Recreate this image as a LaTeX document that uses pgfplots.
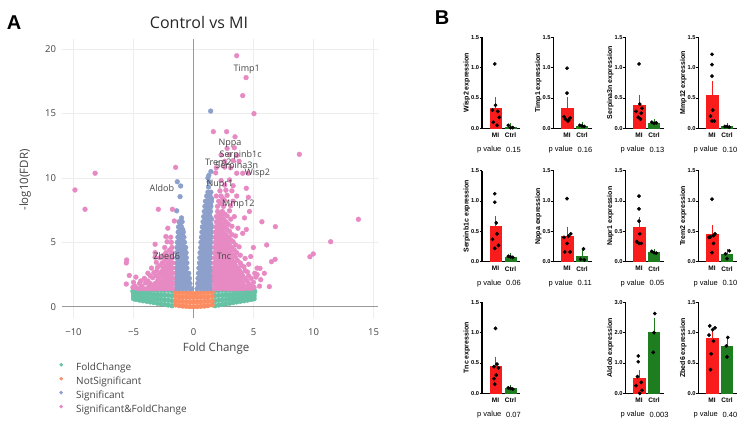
\documentclass[border=0pt]{standalone}
\usepackage{pgfplots}
\pgfplotsset{compat=1.18}
\usepackage{fontspec}
\setmainfont{Open Sans}
\newfontfamily\arial{Liberation Sans}
\definecolor{cgreen}{HTML}{66C2A5}
\definecolor{corange}{HTML}{FC8D62}
\definecolor{cblue}{HTML}{8DA0CB}
\definecolor{cpink}{HTML}{E78AC3}
\definecolor{txt}{HTML}{444444}
\definecolor{barred}{HTML}{F81C1C}
\definecolor{bargreen}{HTML}{1E7D1E}
\pgfplotsset{
  bplot/.style={
    anchor=south west, scale only axis, width=38pt, height=91pt,
    xmin=-0.9, xmax=1.633, ymin=0, ymax=1.5, clip=false,
    axis x line*=bottom, axis y line*=left,
    axis line style={line width=1.1pt, -},
    /pgf/number format/assume math mode=true,
    ytick={0,0.5,1,1.5},
    yticklabel style={font=\arial\bfseries\fontsize{5.7}{6}\selectfont, inner sep=0.6pt, /pgf/number format/.cd, fixed, fixed zerofill, precision=1},
    xtick={0,1}, xticklabels={MI,Ctrl},
    xticklabel style={font=\arial\bfseries\fontsize{6.5}{7}\selectfont, yshift=1pt},
    tick align=outside, major tick length=2.2pt,
    ytick style={line width=0.9pt, black}, xtick style={draw=none},
    every axis y label/.style={at={(axis description cs:-0.40,0.5)}, rotate=90, anchor=center, font=\arial\bfseries\fontsize{7}{8}\selectfont},
  },
  mibar/.style={ybar, bar width=11.5pt, bar shift=0pt, fill=barred, draw=barred, error bars/.cd, y dir=plus, y explicit, error bar style={barred, line width=0.8pt}, error mark options={barred, mark size=3pt, line width=0.8pt}},
  ctbar/.style={ybar, bar width=11pt, bar shift=0pt, fill=bargreen, draw=bargreen, error bars/.cd, y dir=plus, y explicit, error bar style={bargreen, line width=0.8pt}, error mark options={bargreen, mark size=3pt, line width=0.8pt}},
  dots/.style={only marks, mark=*, mark size=1.7pt, black},
}
\newcommand{\pv}[3]{\node[anchor=west, font=\arial\fontsize{7.5}{8}\selectfont, inner sep=0pt] at (#1pt-5pt,#2pt) {p value};
\node[anchor=west, font=\arial\fontsize{7.5}{8}\selectfont, inner sep=0pt] at (#1pt+24pt,#2pt) {#3};}
\begin{document}
\begin{tikzpicture}
\useasboundingbox (0pt,0pt) rectangle (751pt,427pt);
\node[font=\arial\bfseries\fontsize{20}{22}\selectfont, inner sep=0pt] at (14pt,404pt) {A};
\node[font=\arial\bfseries\fontsize{20}{22}\selectfont, inner sep=0pt] at (442pt,409pt) {B};
\begin{axis}[
  at={(61.5pt,108.7pt)}, anchor=south west, scale only axis,
  width=316.8pt, height=279.3pt,
  xmin=-11, xmax=15.4, ymin=-0.9, ymax=20.8,
  axis x line*=bottom, axis y line*=left, axis line style={draw=none},
  major tick length=0pt,
  xtick={-10,-5,0,5,10,15}, xticklabels={−10,−5,0,5,10,15},
  ytick={0,5,10,15,20},
  /pgf/number format/assume math mode=true,
  ticklabel style={font=\fontsize{9.5}{11}\selectfont, text=txt},
  xticklabel style={yshift=-7pt},
  yticklabel style={xshift=-2pt},
  grid=major, grid style={color=black!7, line width=0.6pt},
  title={Control vs MI},
  title style={at={(axis description cs:0.434,1.037)}, anchor=center, font=\fontsize{16}{18}\selectfont, text=black!85},
  xlabel={Fold Change}, ylabel={-log10(FDR)},
  every axis x label/.style={at={(axis description cs:0.488,-0.107)}, anchor=center, font=\fontsize{11.5}{13}\selectfont, text=txt},
  every axis y label/.style={at={(axis description cs:-0.115,0.495)}, rotate=90, anchor=center, font=\fontsize{11.5}{13}\selectfont, text=txt},
  legend style={at={(axis description cs:-0.011,-0.159)}, anchor=north west, draw=none, fill=none, font=\fontsize{10}{12}\selectfont, text=txt, legend cell align=left, row sep=4.8pt, column sep=3pt, inner sep=0pt, nodes={inner sep=0pt}},
  legend image code/.code={\path[draw=none, fill=none] (-3pt,-2pt) rectangle (12pt,2pt); \draw[#1, mark size=1.6pt] plot coordinates {(0pt,2.7pt)};},
  after end axis/.code={
    \begin{scope}[every node/.style={font=\fontsize{9}{10}\selectfont, text=txt, inner sep=0pt}]
    \node at (axis cs:4.43,18.47) {Timp1};
    \node at (axis cs:3.04,12.7) {Nppa};
    \node at (axis cs:3.93,11.79) {Serpinb1c};
    \node at (axis cs:2.07,11.19) {Trem2};
    \node at (axis cs:3.6,10.88) {Serpina3n};
    \node at (axis cs:5.32,10.37) {Wisp2};
    \node at (axis cs:-2.63,9.2) {Aldob};
    \node at (axis cs:2.2,9.5) {Nupr1};
    \node at (axis cs:3.74,7.96) {Mmp12};
    \node at (axis cs:-2.23,3.94) {Zbed6};
    \node at (axis cs:2.54,3.94) {Tnc};
    \end{scope}
  },
]
\addplot[forget plot, color=black!40, line width=1.3pt] coordinates {(0,-0.9) (0,20.8)};
\addplot[forget plot, color=black!40, line width=1.3pt] coordinates {(-11,0) (15.4,0)};
% FoldChange
\addplot[only marks, mark=*, mark size=2.4pt, color=cgreen] coordinates {
(-1.8,0.08)(-1.8,0.47)(-1.8,0.86)(-1.8,1.25)
(-2.1,0.13)(-2.1,0.5)(-2.1,0.88)(-2.1,1.28)
(-2.4,0.18)(-2.4,0.54)(-2.4,0.89)(-2.4,1.25)
(-2.7,0.22)(-2.7,0.56)(-2.7,0.91)(-2.7,1.27)
(-3.0,0.27)(-3.0,0.6)(-3.0,0.92)(-3.0,1.25)
(-3.3,0.32)(-3.3,0.63)(-3.3,0.94)(-3.3,1.28)
(-3.6,0.37)(-3.6,0.66)(-3.6,0.96)(-3.6,1.25)
(-3.9,0.42)(-3.9,0.7)(-3.9,0.97)(-3.9,1.26)
(-4.2,0.46)(-4.2,0.72)(-4.2,0.99)(-4.2,1.25)
(-4.5,0.51)(-4.5,0.76)(-4.5,1.0)(-4.5,1.25)
(-4.8,0.56)(-4.8,0.79)(-4.8,1.02)(-4.8,1.22)
(-5.0,0.62)(-5.0,0.84)(-5.0,1.05)(-5.05,1.2)
(1.8,0.08)(1.8,0.47)(1.8,0.86)(1.8,1.25)
(2.1,0.13)(2.1,0.5)(2.1,0.88)(2.1,1.25)
(2.4,0.18)(2.4,0.54)(2.4,0.89)(2.4,1.27)
(2.7,0.22)(2.7,0.56)(2.7,0.91)(2.7,1.25)
(3.0,0.27)(3.0,0.6)(3.0,0.92)(3.0,1.28)
(3.3,0.32)(3.3,0.63)(3.3,0.94)(3.3,1.25)
(3.6,0.37)(3.6,0.66)(3.6,0.96)(3.6,1.26)
(3.9,0.42)(3.9,0.7)(3.9,0.97)(3.9,1.25)
(4.2,0.46)(4.2,0.72)(4.2,0.99)(4.2,1.27)
(4.5,0.51)(4.5,0.76)(4.5,1.0)(4.5,1.25)
(4.8,0.56)(4.8,0.79)(4.8,1.02)(4.8,1.23)
(5.05,0.62)(5.05,0.84)(5.05,1.05)(5.1,1.2)
};
\addlegendentry{FoldChange}
% NotSignificant
\addplot[only marks, mark=*, mark size=2.4pt, color=corange] coordinates {
(-1.5,0.14)(-1.5,0.45)(-1.5,0.8)(-1.5,1.12)
(-1.2,0.08)(-1.2,0.42)(-1.2,0.76)(-1.2,1.1)
(-0.9,0.05)(-0.9,0.4)(-0.9,0.75)(-0.9,1.1)
(-0.6,0.03)(-0.6,0.38)(-0.6,0.74)(-0.6,1.08)
(-0.3,0.01)(-0.3,0.37)(-0.3,0.73)(-0.3,1.05)
(0,0.0)(0,0.36)(0,0.72)(0,1.02)
(0.3,0.01)(0.3,0.37)(0.3,0.73)(0.3,1.05)
(0.6,0.03)(0.6,0.38)(0.6,0.74)(0.6,1.08)
(0.9,0.05)(0.9,0.4)(0.9,0.75)(0.9,1.1)
(1.2,0.08)(1.2,0.42)(1.2,0.76)(1.2,1.1)
(1.55,0.14)(1.55,0.45)(1.55,0.8)(1.55,1.12)
};
\addlegendentry{NotSignificant}
% Significant
\addplot[only marks, mark=*, mark size=2.4pt, color=cblue] coordinates {
(0.3,1.4)(0.6,1.4)(0.9,1.4)(1.2,1.4)(1.5,1.4)
(0.35,1.8)(0.65,1.8)(0.95,1.8)(1.25,1.8)(1.55,1.8)
(0.38,2.2)(0.68,2.2)(0.98,2.2)(1.28,2.2)(1.55,2.2)
(0.42,2.6)(0.72,2.6)(1.02,2.6)(1.32,2.6)(1.55,2.6)
(0.45,3.0)(0.75,3.0)(1.05,3.0)(1.35,3.0)(1.55,3.0)
(0.5,3.4)(0.8,3.4)(1.1,3.4)(1.4,3.4)
(0.52,3.8)(0.82,3.8)(1.12,3.8)(1.42,3.8)
(0.55,4.2)(0.85,4.2)(1.15,4.2)(1.45,4.2)
(0.6,4.6)(0.9,4.6)(1.2,4.6)(1.45,4.6)
(0.62,5.0)(0.92,5.0)(1.22,5.0)(1.45,5.0)
(0.66,5.4)(0.96,5.4)(1.25,5.4)(1.48,5.4)
(0.7,5.8)(1.0,5.8)(1.28,5.8)(1.48,5.8)
(0.74,6.2)(1.03,6.2)(1.3,6.2)(1.5,6.2)
(0.8,6.6)(1.08,6.6)(1.35,6.6)
(0.85,7.0)(1.12,7.0)(1.38,7.0)
(0.9,7.4)(1.18,7.4)(1.42,7.4)
(0.95,7.8)(1.22,7.8)(1.45,7.8)
(1.0,8.2)(1.3,8.2)(1.5,8.2)
(1.1,8.6)(1.38,8.6)
(1.2,8.9)(1.45,8.9)
(1.25,9.3)(1.3,9.7)(1.2,10.0)(1.28,10.2)(1.45,10.5)(1.43,15.2)
(0.45,1.6)(0.75,1.6)(1.05,1.6)(1.35,1.6)
(0.52,2.0)(0.82,2.0)(1.12,2.0)(1.42,2.0)
(0.55,2.4)(0.85,2.4)(1.15,2.4)(1.45,2.4)
(0.6,2.8)(0.9,2.8)(1.2,2.8)(1.45,2.8)
(0.62,3.2)(0.92,3.2)(1.22,3.2)
(0.66,3.6)(0.96,3.6)(1.26,3.6)
(0.7,4.0)(1.0,4.0)(1.3,4.0)
(0.72,4.4)(1.02,4.4)(1.32,4.4)
(0.76,4.8)(1.06,4.8)(1.34,4.8)
(0.8,5.2)(1.1,5.2)(1.36,5.2)
(0.82,5.6)(1.12,5.6)(1.38,5.6)
(0.88,6.0)(1.16,6.0)(1.4,6.0)
(0.94,6.4)(1.22,6.4)(1.45,6.4)
(0.98,6.8)(1.25,6.8)(1.5,6.8)
(1.04,7.2)(1.3,7.2)
(1.08,7.6)(1.35,7.6)
(1.15,8.0)(1.4,8.0)
(1.25,8.4)(1.5,8.4)
(-1.5,1.4)(-1.2,1.4)(-0.9,1.4)(-0.6,1.4)(-0.3,1.4)(-0.15,1.4)
(-1.5,1.8)(-1.2,1.8)(-0.9,1.8)(-0.6,1.8)(-0.3,1.8)
(-1.48,2.2)(-1.18,2.2)(-0.88,2.2)(-0.58,2.2)(-0.35,2.2)
(-1.45,2.6)(-1.15,2.6)(-0.85,2.6)(-0.55,2.6)(-0.4,2.6)
(-1.45,3.0)(-1.15,3.0)(-0.85,3.0)(-0.55,3.0)
(-1.42,3.4)(-1.12,3.4)(-0.82,3.4)(-0.55,3.4)
(-1.4,3.8)(-1.1,3.8)(-0.8,3.8)(-0.6,3.8)
(-1.4,4.2)(-1.1,4.2)(-0.8,4.2)(-0.62,4.2)
(-1.38,4.6)(-1.08,4.6)(-0.78,4.6)(-0.65,4.6)
(-1.35,5.0)(-1.05,5.0)(-0.75,5.0)
(-1.3,5.4)(-1.0,5.4)(-0.8,5.4)
(-1.28,5.8)(-1.0,5.8)(-0.85,5.8)
(-1.25,6.2)(-1.0,6.2)
(-1.2,6.6)(-0.95,6.6)(-1.0,6.9)
(-1.4,7.45)(-1.12,8.55)(-1.07,9.38)(-1.35,9.71)
(-1.35,1.6)(-1.05,1.6)(-0.75,1.6)(-0.45,1.6)
(-1.35,2.0)(-1.05,2.0)(-0.75,2.0)(-0.45,2.0)
(-1.3,2.4)(-1.0,2.4)(-0.7,2.4)(-0.48,2.4)
(-1.3,2.8)(-1.0,2.8)(-0.7,2.8)
(-1.28,3.2)(-0.98,3.2)(-0.7,3.2)
(-1.25,3.6)(-0.95,3.6)(-0.7,3.6)
(-1.25,4.0)(-0.95,4.0)(-0.72,4.0)
(-1.22,4.4)(-0.94,4.4)(-0.75,4.4)
(-1.2,4.8)(-0.92,4.8)
(-1.18,5.2)(-0.9,5.2)
(-1.15,5.6)(-0.92,5.6)
(-1.12,6.0)(-0.9,6.0)
(-1.1,6.4)
};
\addlegendentry{Significant}
% Significant & FoldChange
\addplot[only marks, mark=*, mark size=2.4pt, color=cpink] coordinates {
(1.75,1.4)(2.05,1.4)(2.35,1.4)(2.65,1.4)(2.95,1.4)(3.25,1.4)(3.55,1.4)(3.85,1.4)(4.15,1.4)(4.45,1.45)(4.75,1.4)(5.05,1.5)
(1.7,1.8)(2.0,1.8)(2.3,1.8)(2.6,1.8)(2.9,1.8)(3.2,1.8)(3.5,1.8)(3.8,1.8)(4.1,1.85)(4.6,1.8)(5.0,1.9)
(1.72,2.2)(2.02,2.2)(2.32,2.2)(2.62,2.2)(2.92,2.2)(3.22,2.2)(3.52,2.2)(3.9,2.25)(4.3,2.2)(4.8,2.2)(5.2,2.3)
(1.7,2.6)(2.0,2.6)(2.3,2.6)(2.6,2.6)(2.9,2.6)(3.25,2.6)(3.6,2.65)(4.0,2.6)(4.5,2.7)(5.1,2.6)
(1.72,3.0)(2.02,3.0)(2.32,3.0)(2.62,3.0)(2.95,3.0)(3.3,3.05)(3.7,3.0)(4.2,3.1)(5.3,3.0)
(1.75,3.4)(2.05,3.4)(2.35,3.4)(2.65,3.4)(3.0,3.4)(3.4,3.45)(3.9,3.4)(4.6,3.3)
(1.75,3.8)(2.05,3.8)(2.35,3.8)(2.7,3.8)(3.05,3.8)(3.5,3.85)(4.3,3.75)(4.77,3.9)
(1.78,4.2)(2.08,4.2)(2.4,4.2)(2.75,4.2)(3.1,4.25)(3.6,4.2)
(1.78,4.6)(2.08,4.6)(2.4,4.6)(2.8,4.6)(3.2,4.6)(3.8,4.65)(4.99,4.6)
(1.8,5.0)(2.1,5.0)(2.45,5.0)(2.85,5.0)(3.3,5.05)
(1.8,5.4)(2.1,5.4)(2.5,5.4)(2.9,5.4)(3.5,5.5)
(1.82,5.8)(2.15,5.8)(2.5,5.8)(3.0,5.85)(4.1,5.7)
(1.85,6.2)(2.2,6.2)(2.6,6.2)(3.2,6.25)(3.7,6.1)(4.4,6.0)
(1.9,6.6)(2.25,6.6)(2.7,6.6)(5.7,6.6)
(1.9,7.0)(2.3,7.0)(2.8,7.05)(3.4,7.0)(4.25,6.9)
(2.0,7.4)(2.4,7.4)(3.0,7.45)(4.66,7.4)
(2.0,7.8)(2.5,7.8)(3.1,7.85)
(2.1,8.2)(2.6,8.25)(3.3,8.2)
(1.9,8.6)(2.3,8.6)(2.8,8.65)(3.6,8.6)(4.57,8.5)
(2.2,9.0)(2.7,9.05)(3.2,9.0)
(2.6,9.45)(3.3,9.4)(4.4,9.2)
(2.3,9.8)(3.0,9.85)
(1.85,10.4)(3.6,10.37)(4.1,10.37)(4.57,10.37)
(1.9,10.8)(2.6,10.85)(3.1,10.8)
(2.6,11.3)(3.3,11.35)(3.8,11.3)
(2.3,11.8)(3.0,11.8)(3.6,11.75)
(2.8,12.3)(3.4,12.35)
(3.46,13.2)(1.65,13.6)(2.76,13.6)
(3.6,19.5)(4.38,17.8)(4.1,16.4)(5.04,15.0)(8.82,11.84)(13.74,6.79)(11.43,5.05)(9.98,4.1)(9.7,3.88)
(6.82,6.22)(6.1,4.8)(6.8,3.68)(6.5,3.5)(6.32,1.56)(5.54,2.98)(5.3,2.5)(5.6,2.1)(5.5,1.6)(5.9,2.6)
(1.9,1.6)(2.2,1.6)(2.5,1.6)(2.8,1.6)(3.1,1.6)(3.4,1.6)(3.7,1.6)(4.0,1.6)(4.3,1.6)(4.6,1.6)(4.9,1.6)
(1.85,2.0)(2.15,2.0)(2.45,2.0)(2.75,2.0)(3.05,2.0)(3.35,2.0)(3.65,2.0)(4.0,2.0)(4.45,2.0)
(1.87,2.4)(2.17,2.4)(2.47,2.4)(2.77,2.4)(3.07,2.4)(3.37,2.4)(3.7,2.4)(4.1,2.4)(4.6,2.4)
(1.85,2.8)(2.15,2.8)(2.45,2.8)(2.75,2.8)(3.1,2.8)(3.45,2.8)(3.85,2.8)(4.3,2.8)
(1.87,3.2)(2.17,3.2)(2.47,3.2)(2.8,3.2)(3.15,3.2)(3.5,3.2)(4.0,3.2)
(1.9,3.6)(2.2,3.6)(2.5,3.6)(2.85,3.6)(3.2,3.6)(3.65,3.6)
(1.9,4.0)(2.2,4.0)(2.55,4.0)(2.9,4.0)(3.3,4.0)(3.9,4.0)
(1.93,4.4)(2.25,4.4)(2.6,4.4)(2.95,4.4)(3.4,4.4)
(1.93,4.8)(2.25,4.8)(2.6,4.8)(3.0,4.8)(3.5,4.8)
(1.95,5.2)(2.3,5.2)(2.65,5.2)(3.1,5.2)
(1.97,5.6)(2.3,5.6)(2.7,5.6)(3.2,5.6)
(2.0,6.0)(2.35,6.0)(2.8,6.0)
(2.05,6.4)(2.45,6.4)(2.9,6.4)
(2.1,6.8)(2.5,6.8)(3.1,6.8)
(2.2,7.2)(2.6,7.2)(2.3,8.0)(2.45,8.4)
(-1.75,1.4)(-2.05,1.4)(-2.35,1.4)(-2.65,1.4)(-2.95,1.4)(-3.25,1.4)(-3.55,1.4)(-3.85,1.4)(-4.15,1.4)(-4.45,1.4)(-4.75,1.45)(-5.05,1.5)(-5.6,1.76)
(-1.72,1.8)(-2.02,1.8)(-2.4,1.8)(-2.8,1.8)(-3.2,1.8)(-3.6,1.8)(-4.0,1.85)(-4.5,1.8)(-5.0,1.9)
(-1.75,2.2)(-2.05,2.2)(-2.4,2.2)(-2.9,2.2)(-3.4,2.25)(-4.1,2.2)(-4.8,2.3)(-5.35,2.43)
(-1.72,2.6)(-2.05,2.6)(-2.4,2.6)(-2.8,2.6)(-3.3,2.65)(-3.8,2.6)
(-1.75,3.0)(-2.1,3.0)(-2.5,3.0)(-3.0,3.05)(-3.5,3.0)
(-1.75,3.4)(-2.1,3.4)(-2.6,3.4)(-3.1,3.45)(-5.6,3.4)
(-1.8,3.8)(-2.2,3.8)(-2.8,3.8)(-3.2,3.85)
(-1.8,4.2)(-2.3,4.2)(-3.2,4.2)
(-1.8,4.6)(-2.4,4.6)
(-1.85,5.0)(-2.2,5.05)(-3.2,4.85)
(-1.9,5.4)(-2.3,5.45)
(-2.14,6.1)(-1.6,6.66)(-1.76,7.57)(-2.93,7.57)(-1.49,10.83)(-5.57,3.63)
(-9.88,9.07)(-9.04,7.57)(-8.2,10.37)
(-1.9,1.6)(-2.2,1.6)(-2.5,1.6)(-2.8,1.6)(-3.1,1.6)(-3.4,1.6)(-3.7,1.6)(-4.3,1.6)(-4.9,1.6)
(-1.88,2.0)(-2.2,2.0)(-2.6,2.0)(-3.0,2.0)(-3.8,2.0)(-4.4,2.0)
(-1.9,2.4)(-2.25,2.4)(-2.65,2.4)(-3.1,2.4)(-3.6,2.4)
(-1.9,2.8)(-2.25,2.8)(-2.6,2.8)(-3.05,2.8)
(-1.92,3.2)(-2.3,3.2)(-2.8,3.2)
(-1.95,3.6)(-2.4,3.6)
(-1.95,4.0)(-2.5,4.0)
(-2.0,4.4)
};
\addlegendentry{Significant\&FoldChange}
\end{axis}

% ---- Row 1 ----
\begin{axis}[bplot, at={(482pt,298.7pt)}, ylabel={Wisp2 expression}]
\addplot[mibar] coordinates {(0,0.336) +- (0,0.13)};
\addplot[ctbar] coordinates {(1,0.023) +- (0,0.015)};
\addplot[dots] coordinates {(-0.05,1.06)(0.0,0.38)(-0.2,0.30)(0.15,0.28)(0.25,0.18)(-0.15,0.10)(0.1,0.05)};
\addplot[dots] coordinates {(0.85,0.05)(1.0,0.01)(1.15,0.01)};
\end{axis}
\begin{axis}[bplot, at={(553.5pt,298.7pt)}, ylabel={Timp1 expression}]
\addplot[mibar] coordinates {(0,0.333) +- (0,0.13)};
\addplot[ctbar] coordinates {(1,0.04) +- (0,0.01)};
\addplot[dots] coordinates {(0.0,0.99)(0.0,0.58)(-0.2,0.19)(0.2,0.17)(-0.1,0.15)(0.1,0.13)(0.05,0.12)};
\addplot[dots] coordinates {(0.85,0.05)(1.0,0.04)(1.15,0.03)};
\end{axis}
\begin{axis}[bplot, at={(625.5pt,298.7pt)}, ylabel={Serpina3n expression}]
\addplot[mibar] coordinates {(0,0.385) +- (0,0.12)};
\addplot[ctbar] coordinates {(1,0.083) +- (0,0.015)};
\addplot[dots] coordinates {(0.0,1.06)(0.05,0.40)(0.2,0.33)(-0.2,0.28)(0.15,0.25)(-0.05,0.18)(0.1,0.15)};
\addplot[dots] coordinates {(0.85,0.10)(1.0,0.08)(1.15,0.09)};
\end{axis}
\begin{axis}[bplot, at={(698.5pt,298.7pt)}, ylabel={Mmp12 expression}]
\addplot[mibar] coordinates {(0,0.553) +- (0,0.18)};
\addplot[ctbar] coordinates {(1,0.027) +- (0,0.005)};
\addplot[dots] coordinates {(0.0,1.22)(0.0,1.05)(0.0,0.86)(0.05,0.30)(-0.1,0.20)(0.15,0.12)(0.0,0.12)};
\addplot[dots] coordinates {(0.85,0.03)(1.0,0.03)(1.15,0.02)};
\end{axis}
% ---- Row 2 ----
\begin{axis}[bplot, at={(482pt,165.3pt)}, ylabel={Serpinb1c expression}]
\addplot[mibar] coordinates {(0,0.58) +- (0,0.13)};
\addplot[ctbar] coordinates {(1,0.08) +- (0,0.01)};
\addplot[dots] coordinates {(-0.05,1.12)(-0.05,0.98)(0.05,0.64)(0.1,0.46)(-0.2,0.37)(0.2,0.27)(-0.05,0.22)};
\addplot[dots] coordinates {(0.85,0.09)(1.0,0.08)(1.15,0.07)};
\end{axis}
\begin{axis}[bplot, at={(553.5pt,165.3pt)}, ylabel={Nppa expression}]
\addplot[mibar] coordinates {(0,0.42) +- (0,0.11)};
\addplot[ctbar] coordinates {(1,0.093) +- (0,0.06)};
\addplot[dots] coordinates {(0.0,1.04)(0.25,0.46)(0.1,0.42)(-0.2,0.40)(0.0,0.30)(-0.15,0.16)(0.2,0.16)};
\addplot[dots] coordinates {(1.1,0.21)(0.9,0.04)(1.15,0.03)};
\end{axis}
\begin{axis}[bplot, at={(625.5pt,165.3pt)}, ylabel={Nupr1 expression}]
\addplot[mibar] coordinates {(0,0.573) +- (0,0.11)};
\addplot[ctbar] coordinates {(1,0.153) +- (0,0.01)};
\addplot[dots] coordinates {(0.0,1.08)(0.0,0.87)(0.0,0.67)(0.05,0.46)(-0.15,0.33)(0.15,0.30)(0.0,0.30)};
\addplot[dots] coordinates {(0.85,0.17)(1.0,0.15)(1.15,0.14)};
\end{axis}
\begin{axis}[bplot, at={(698.5pt,165.3pt)}, ylabel={Trem2 expression}]
\addplot[mibar] coordinates {(0,0.454) +- (0,0.1)};
\addplot[ctbar] coordinates {(1,0.12) +- (0,0.04)};
\addplot[dots] coordinates {(0.0,1.03)(0.2,0.46)(0.1,0.43)(-0.1,0.41)(-0.2,0.40)(0.1,0.30)(0.0,0.15)};
\addplot[dots] coordinates {(1.15,0.18)(0.9,0.13)(1.0,0.05)};
\end{axis}
% ---- Row 3 ----
\begin{axis}[bplot, at={(482pt,33.7pt)}, ylabel={Tnc expression}]
\addplot[mibar] coordinates {(0,0.443) +- (0,0.11)};
\addplot[ctbar] coordinates {(1,0.08) +- (0,0.01)};
\addplot[dots] coordinates {(0.0,1.07)(0.1,0.48)(-0.1,0.44)(0.2,0.42)(0.05,0.30)(-0.1,0.24)(-0.05,0.15)};
\addplot[dots] coordinates {(0.85,0.09)(1.0,0.08)(1.15,0.07)};
\end{axis}
\begin{axis}[bplot, at={(625.5pt,33.7pt)}, ylabel={Aldob expression}, ymax=3, ytick={0,1,2,3}]
\addplot[mibar] coordinates {(0,0.50) +- (0,0.16)};
\addplot[ctbar] coordinates {(1,2.03) +- (0,0.36)};
\addplot[dots] coordinates {(-0.05,1.23)(-0.05,1.04)(-0.1,0.55)(0.15,0.36)(-0.2,0.25)(0.2,0.10)(0.05,0.0)};
\addplot[dots] coordinates {(1.05,2.63)(1.0,2.0)(0.95,1.35)};
\end{axis}
\begin{axis}[bplot, at={(698.5pt,33.7pt)}, ylabel={Zbed6 expression}]
\addplot[mibar] coordinates {(0,0.91) +- (0,0.09)};
\addplot[ctbar] coordinates {(1,0.77) +- (0,0.09)};
\addplot[dots] coordinates {(-0.15,1.11)(0.2,1.08)(0.05,1.05)(-0.2,0.96)(0.1,0.86)(-0.05,0.65)(-0.1,0.39)};
\addplot[dots] coordinates {(1.05,0.92)(0.95,0.78)(1.0,0.60)};
\end{axis}
% p values
\pv{482}{277}{0.15}
\pv{553.5}{277}{0.16}
\pv{625.5}{277}{0.13}
\pv{698.5}{277}{0.10}
\pv{482}{143.7}{0.06}
\pv{553.5}{143.7}{0.11}
\pv{625.5}{143.7}{0.05}
\pv{698.5}{143.7}{0.10}
\pv{482}{12.5}{0.07}
\pv{625.5}{12.5}{0.003}
\pv{698.5}{12.5}{0.40}
\end{tikzpicture}
\end{document}
